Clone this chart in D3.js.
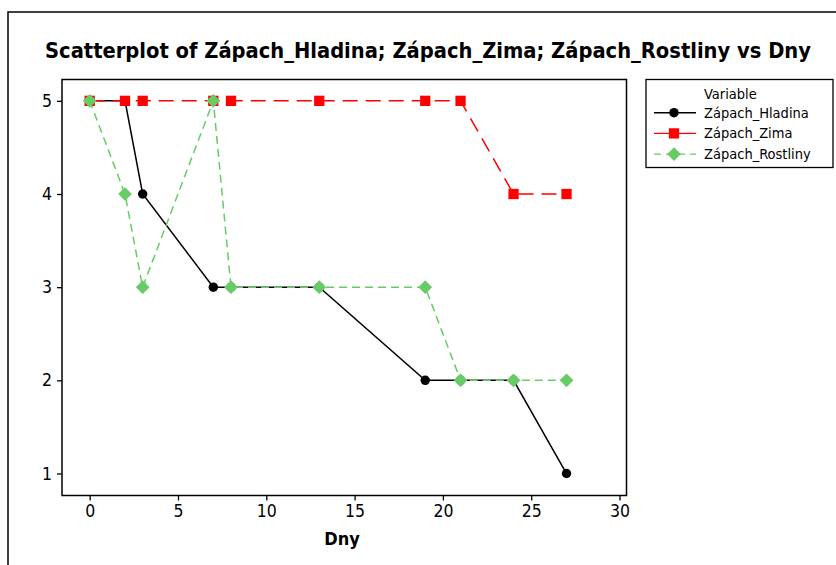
<!DOCTYPE html>
<html>
<head>
<meta charset="utf-8">
<script src="https://cdn.jsdelivr.net/npm/d3@7"></script>
<style>
  html, body { margin: 0; padding: 0; background: #fff; }
  svg { display: block; }
  text { font-family: "DejaVu Sans Condensed", "DejaVu Sans", sans-serif; }
</style>
</head>
<body>
<svg id="chart" width="836" height="565"></svg>
<script>
// ---- data ----
const dny = [0, 2, 3, 7, 8, 13, 19, 21, 24, 27];
const zapachHladina = [5, 5, 4, 3, 3, 3, 2, 2, 2, 1];
const zapachZima = [5, 5, 5, 5, 5, 5, 5, 5, 4, 4];
const zapachRostliny = [5, 4, 3, 5, 3, 3, 3, 2, 2, 2];
const seriesNames = ["Zápach_Hladina", "Zápach_Zima", "Zápach_Rostliny"];
const xTicks = [0, 5, 10, 15, 20, 25, 30];
const yTicks = [1, 2, 3, 4, 5];
const titleText = "Scatterplot of Zápach_Hladina; Zápach_Zima; Zápach_Rostliny vs Dny";
const xLabel = "Dny";
const legendTitle = "Variable";

const svg = d3.select("#chart");

// outer frame
svg.append("rect").attr("x", 8).attr("y", 12).attr("width", 900).attr("height", 700)
  .attr("fill", "none").attr("stroke", "#000").attr("stroke-width", 1.5);

const plot = { left: 62, top: 79.5, right: 626.5, bottom: 495.5 };
const x = d3.scaleLinear().domain([-1.568, 30.396]).range([plot.left, plot.right]);
const y = d3.scaleLinear().domain([0.764, 5.229]).range([plot.bottom, plot.top]);

// title
const t = svg.append("text").attr("x", 428).attr("y", 58)
  .attr("text-anchor", "middle").attr("font-weight", "bold").attr("font-size", 21)
  .attr("fill", "#000").text(titleText);
const tw = t.node().getComputedTextLength();
if (Math.abs(tw - 766) > 4) t.attr("textLength", 766).attr("lengthAdjust", "spacingAndGlyphs");

// axes
const xAxis = svg.append("g").attr("transform", `translate(0,${plot.bottom})`)
  .call(d3.axisBottom(x).tickValues(xTicks).tickSize(5).tickPadding(4).tickFormat(d3.format("d")));
const yAxis = svg.append("g").attr("transform", `translate(${plot.left},0)`)
  .call(d3.axisLeft(y).tickValues(yTicks).tickSize(5).tickPadding(5).tickFormat(d3.format("d")));
[xAxis, yAxis].forEach(g => {
  g.select(".domain").remove();
  g.selectAll("line").attr("stroke", "#000").attr("stroke-width", 1.3);
  g.selectAll("text").attr("font-size", 17.5).attr("fill", "#000")
    .attr("font-family", '"DejaVu Sans Condensed", "DejaVu Sans", sans-serif');
});
xAxis.selectAll("text").attr("dy", "0.71em");

// plot box
svg.append("rect").attr("x", plot.left).attr("y", plot.top)
  .attr("width", plot.right - plot.left).attr("height", plot.bottom - plot.top)
  .attr("fill", "none").attr("stroke", "#000").attr("stroke-width", 1.5);

// x label
svg.append("text").attr("x", 342).attr("y", 545).attr("text-anchor", "middle")
  .attr("font-weight", "bold").attr("font-size", 18).attr("fill", "#000").text(xLabel);

const series = [
  { name: seriesNames[0], vals: zapachHladina, color: "#000000", dash: null, legDash: null, shape: d3.symbolCircle, size: 70, rot: 0 },
  { name: seriesNames[1], vals: zapachZima, color: "#ff0000", dash: "15,8", legDash: null, shape: d3.symbolSquare, size: 106, rot: 0 },
  { name: seriesNames[2], vals: zapachRostliny, color: "#66cc66", dash: "8,5", legDash: "7,5", shape: d3.symbolSquare, size: 94, rot: 45 }
];

const line = d3.line().x(d => x(d[0])).y(d => y(d[1]));
series.forEach(s => {
  const pts = dny.map((d, i) => [d, s.vals[i]]);
  const g = svg.append("g");
  g.append("path").datum(pts).attr("d", line).attr("fill", "none")
    .attr("stroke", s.color).attr("stroke-width", 1.5)
    .attr("stroke-dasharray", s.dash);
  g.selectAll("path.m").data(pts).join("path").attr("class", "m")
    .attr("transform", d => `translate(${x(d[0])},${y(d[1])}) rotate(${s.rot})`)
    .attr("d", d3.symbol().type(s.shape).size(s.size))
    .attr("fill", s.color);
});

// legend
const lg = svg.append("g");
lg.append("rect").attr("x", 646).attr("y", 79.5).attr("width", 187).attr("height", 88)
  .attr("fill", "#fff").attr("stroke", "#000").attr("stroke-width", 1.3);
lg.append("text").attr("x", 704).attr("y", 98.5).attr("font-size", 14.5).attr("fill", "#000").text(legendTitle);
series.forEach((s, i) => {
  const yy = 112.7 + i * 20.7;
  lg.append("line").attr("x1", 654).attr("x2", 696).attr("y1", yy).attr("y2", yy)
    .attr("stroke", s.color).attr("stroke-width", 1.4)
    .attr("stroke-dasharray", s.legDash);
  lg.append("path").attr("transform", `translate(674,${yy}) rotate(${s.rot})`)
    .attr("d", d3.symbol().type(s.shape).size(s.size)).attr("fill", s.color);
  lg.append("text").attr("x", 704).attr("y", yy + 5).attr("font-size", 14.5).attr("fill", "#000").text(s.name);
});
</script>
</body>
</html>
